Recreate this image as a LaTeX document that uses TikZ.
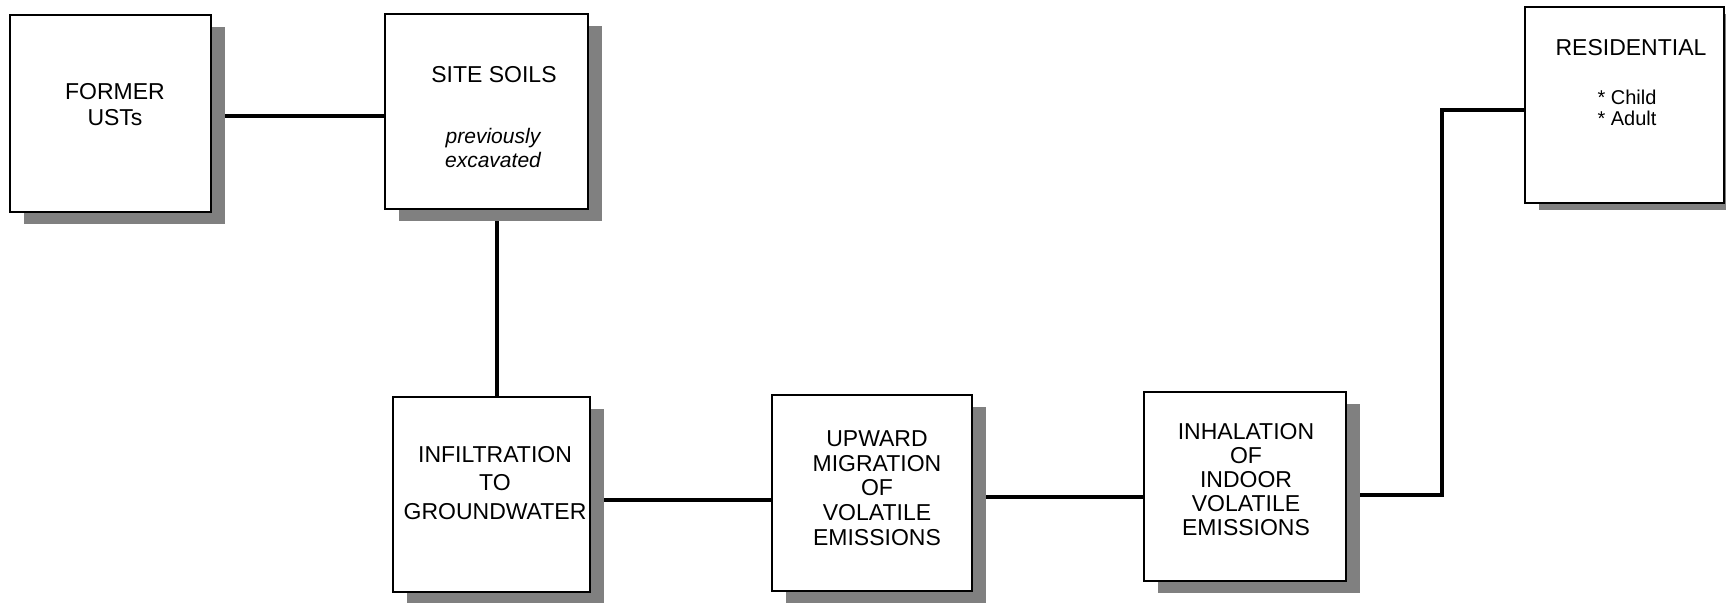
\documentclass[tikz,border=0pt]{standalone}
\usepackage{fontspec}
\setmainfont{Liberation Sans}
\usetikzlibrary{fit,shadows}
\pgfdeclarelayer{bg}
\pgfsetlayers{bg,main}
\begin{document}
\begin{tikzpicture}[x=0.5pt,y=-0.5pt,
  boxbase/.style={draw=black, line width=1pt, fill=white, inner sep=0pt},
  box/.style={boxbase, drop shadow={shadow xshift=7pt, shadow yshift=-6pt, fill=black!50, opacity=1}},
  resbox/.style={boxbase, drop shadow={shadow xshift=7pt, shadow yshift=-3.5pt, fill=black!50, opacity=1}},
  conn/.style={line width=1.8pt, line join=miter},
  lbl/.style={align=center, inner sep=0pt},
]
\useasboundingbox (0,0) rectangle (1726,602);

% boxes
\node[box, fit={(10,15)(211,212)}] (ust) {};
\node[box, fit={(385,14)(588,209)}] (site) {};
\node[box, fit={(393,397)(590,592)}] (infl) {};
\node[box, fit={(772,395)(972,591)}] (up) {};
\node[box, fit={(1144,392)(1346,581)}] (inh) {};
\node[resbox, fit={(1525,7)(1724,203)}] (res) {};

% texts
\node[lbl, font=\fontsize{11.5}{13}\selectfont] (ustt) at (115,105) {FORMER\\USTs};
\node[lbl, font=\fontsize{11.5}{13}\selectfont] (sitet) at (494,75) {SITE SOILS};
\node[lbl, font=\itshape\fontsize{10.5}{12}\selectfont] (sites) at (493,148) {previously\\excavated};
\node[lbl, font=\fontsize{11.5}{14.25}\selectfont] (inflt) at (495,483) {INFILTRATION\\TO\\GROUNDWATER};
\node[lbl, font=\fontsize{11.5}{12.4}\selectfont] (upt) at (877,488) {UPWARD\\MIGRATION\\OF\\VOLATILE\\EMISSIONS};
\node[lbl, font=\fontsize{11.5}{12}\selectfont] (inht) at (1246,480) {INHALATION\\OF\\INDOOR\\VOLATILE\\EMISSIONS};
\node[lbl, font=\fontsize{11.5}{13}\selectfont] (rest) at (1631,48) {RESIDENTIAL};
\node[lbl, align=left, font=\fontsize{10}{10.5}\selectfont] (resi) at (1627,108) {* Child\\* Adult};

% helper coordinates
\coordinate (h0) at (0,116);
\coordinate (v1) at (497,0);
\coordinate (h1) at (0,500);
\coordinate (h2) at (0,497);
\coordinate (h3) at (0,495);
\coordinate (v2) at (1442,0);
\coordinate (h4) at (0,110);

\begin{pgfonlayer}{bg}
\draw[conn] (ust.east |- h0) -- (site.west |- h0);
\draw[conn] (site.south -| v1) -- (infl.north -| v1);
\draw[conn] (infl.east |- h1) -- (up.west |- h1);
\draw[conn] (up.east |- h2) -- (inh.west |- h2);
\draw[conn] (inh.east |- h3) -| (v2 |- h4) -- (res.west |- h4);
\end{pgfonlayer}
\end{tikzpicture}
\end{document}
